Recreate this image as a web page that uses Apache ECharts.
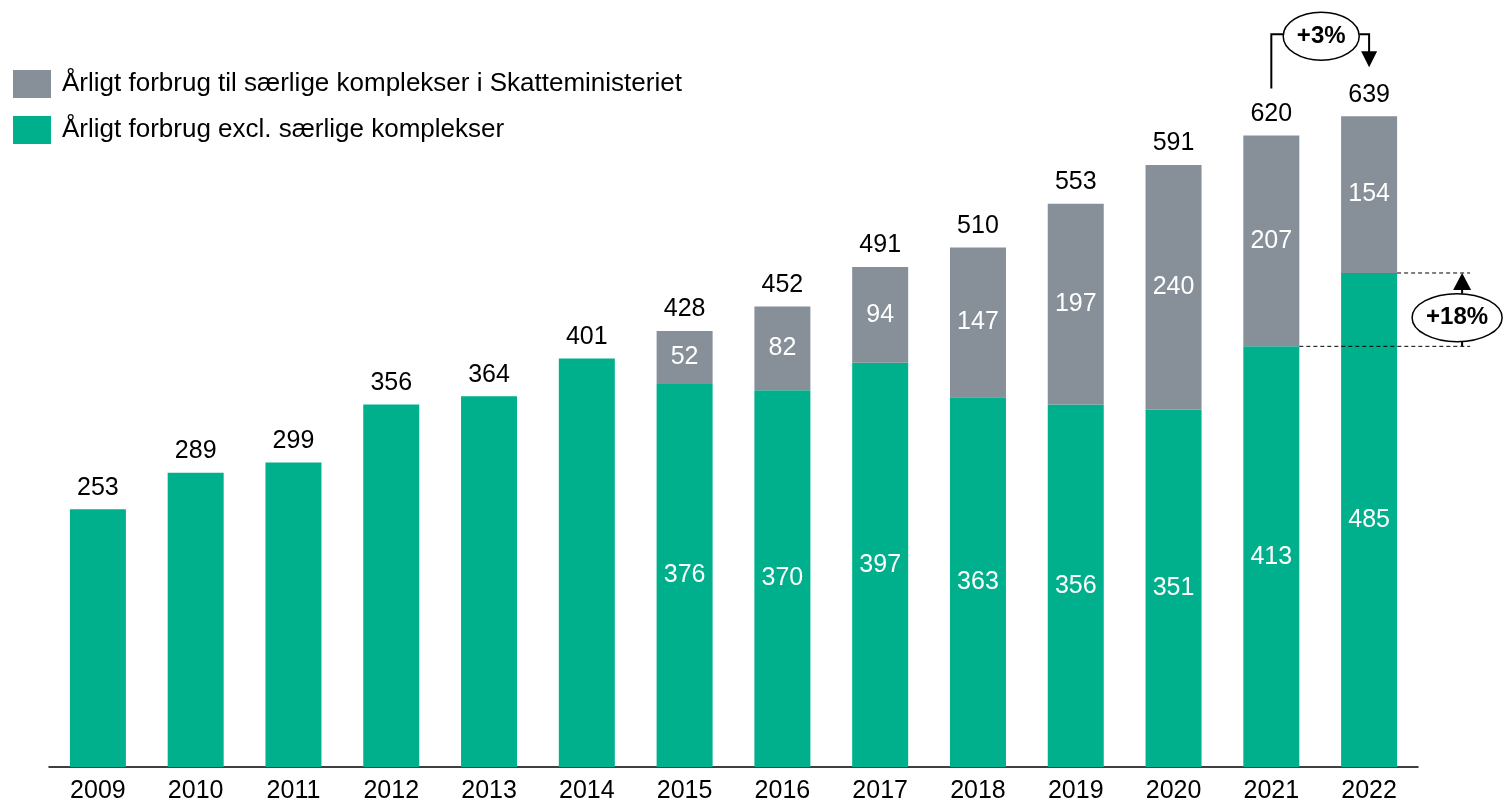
<!DOCTYPE html>
<html>
<head>
<meta charset="utf-8">
<script src="https://cdn.jsdelivr.net/npm/echarts@6/dist/echarts.min.js"></script>
<style>
html, body { margin: 0; padding: 0; background: #fff; }
#main { width: 1503px; height: 804px; }
</style>
</head>
<body>
<div id="main"></div>
<script>
// data
var years = ['2009', '2010', '2011', '2012', '2013', '2014', '2015', '2016', '2017', '2018', '2019', '2020', '2021', '2022'];
var exclValues = [253, 289, 299, 356, 364, 401, 376, 370, 397, 363, 356, 351, 413, 485];
var specialValues = [null, null, null, null, null, null, 52, 82, 94, 147, 197, 240, 207, 154];
var totalValues = [253, 289, 299, 356, 364, 401, 428, 452, 491, 510, 553, 591, 620, 639];
var seriesNames = ['Årligt forbrug til særlige komplekser i Skatteministeriet', 'Årligt forbrug excl. særlige komplekser'];
var growthLabels = ['+3%', '+18%'];

var GREEN = '#00b08c';
var GRAY = '#878f99';
var FONT = 'Liberation Sans, Arial, sans-serif';

var chart = echarts.init(document.getElementById('main'));

var option = {
    animation: false,
    textStyle: { fontFamily: FONT },
    legend: {
        orient: 'vertical',
        left: 13,
        top: 70,
        padding: 0,
        itemWidth: 38,
        itemHeight: 28,
        itemGap: 18,
        icon: 'rect',
        selectedMode: false,
        data: [seriesNames[0], seriesNames[1]],
        textStyle: { fontSize: 26, color: '#000', fontFamily: FONT, padding: [0, 0, 0, 6] }
    },
    grid: { left: 49, right: 85, top: 54, bottom: 37 },
    xAxis: {
        type: 'category',
        data: years,
        axisLine: { lineStyle: { color: '#000', width: 1.5 } },
        axisTick: { show: false },
        axisLabel: { color: '#000', fontSize: 25, margin: 12, fontFamily: FONT }
    },
    yAxis: {
        type: 'value',
        min: 0,
        max: 700,
        show: false,
        splitLine: { show: false }
    },
    series: [
        {
            name: seriesNames[1],
            type: 'bar',
            stack: 'total',
            barWidth: 56,
            itemStyle: { color: GREEN },
            data: exclValues,
            label: {
                show: true,
                position: 'inside',
                color: '#fff',
                fontSize: 25,
                fontFamily: FONT,
                formatter: function (p) {
                    return specialValues[p.dataIndex] == null ? '' : p.value;
                }
            }
        },
        {
            name: seriesNames[0],
            type: 'bar',
            stack: 'total',
            barWidth: 56,
            itemStyle: { color: GRAY },
            data: specialValues,
            label: { show: true, position: 'inside', color: '#fff', fontSize: 25, fontFamily: FONT }
        },
        {
            // transparent bar carrying the total labels
            name: 'total',
            type: 'bar',
            barWidth: 56,
            barGap: '-100%',
            data: totalValues,
            itemStyle: { color: 'rgba(0,0,0,0)' },
            silent: true,
            z: 1,
            label: {
                show: true,
                position: 'top',
                distance: 9,
                color: '#000',
                fontSize: 25,
                fontFamily: FONT
            }
        }
    ]
};
chart.setOption(option);

// annotations
function px(i, v) {
    return chart.convertToPixel({ gridIndex: 0 }, [i, v]);
}
var n = years.length;
var x21 = px(n - 2, 0)[0];
var x22 = px(n - 1, 0)[0];
var yGreen21 = px(n - 2, exclValues[n - 2])[1];
var yGreen22 = px(n - 1, exclValues[n - 1])[1];
var yTot21 = px(n - 2, totalValues[n - 2])[1];
var yTot22 = px(n - 1, totalValues[n - 1])[1];

var ell1 = { cx: (x21 + x22) / 2 + 1, cy: yTot22 - 80, rx: 38, ry: 24 };
var bracketY = ell1.cy - 2;
var ell2 = { cx: x22 + 88, cy: (yGreen21 + yGreen22) / 2 + 8, rx: 45, ry: 24 };
var arrowX = x22 + 93;
var dashEnd = x22 + 101;

var graphics = [
    // +3% bracket
    { type: 'polyline', shape: { points: [[x21, yTot21 - 47], [x21, bracketY], [ell1.cx - ell1.rx, bracketY]] },
      style: { stroke: '#000', lineWidth: 2, fill: null }, z: 10 },
    { type: 'polyline', shape: { points: [[ell1.cx + ell1.rx, bracketY], [x22, bracketY], [x22, yTot22 - 64]] },
      style: { stroke: '#000', lineWidth: 2, fill: null }, z: 10 },
    { type: 'polygon', shape: { points: [[x22 - 8, yTot22 - 65], [x22 + 8, yTot22 - 65], [x22, yTot22 - 49]] },
      style: { fill: '#000' }, z: 10 },
    { type: 'ellipse', shape: ell1, style: { fill: '#fff', stroke: '#000', lineWidth: 1.5 }, z: 11 },
    { type: 'text', x: ell1.cx, y: ell1.cy, z: 12,
      style: { text: growthLabels[0], fill: '#000', font: 'bold 24px ' + FONT, align: 'center', verticalAlign: 'middle' } },

    // +18% dashed guides
    { type: 'line', shape: { x1: x22 + 28, y1: yGreen22, x2: dashEnd, y2: yGreen22 },
      style: { stroke: '#000', lineWidth: 1, lineDash: [4, 3] }, z: 10 },
    { type: 'line', shape: { x1: x21 + 28, y1: yGreen21, x2: dashEnd, y2: yGreen21 },
      style: { stroke: '#000', lineWidth: 1, lineDash: [4, 3] }, z: 10 },
    { type: 'line', shape: { x1: arrowX, y1: yGreen21, x2: arrowX, y2: yGreen22 + 12 },
      style: { stroke: '#000', lineWidth: 2 }, z: 10 },
    { type: 'polygon', shape: { points: [[arrowX - 9, yGreen22 + 17], [arrowX + 9, yGreen22 + 17], [arrowX, yGreen22]] },
      style: { fill: '#000' }, z: 10 },
    { type: 'ellipse', shape: ell2, style: { fill: '#fff', stroke: '#000', lineWidth: 1.5 }, z: 11 },
    { type: 'text', x: ell2.cx, y: ell2.cy, z: 12,
      style: { text: growthLabels[1], fill: '#000', font: 'bold 24px ' + FONT, align: 'center', verticalAlign: 'middle' } }
];
chart.setOption({ graphic: graphics });
</script>
</body>
</html>
